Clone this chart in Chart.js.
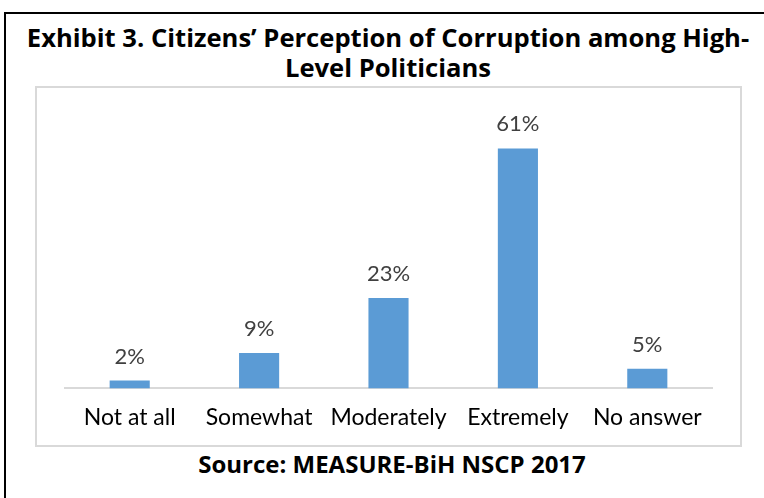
<!DOCTYPE html>
<html lang="en">
<head>
    <meta charset="UTF-8">
    <title>Exhibit 3</title>
    <script src="https://cdn.jsdelivr.net/npm/chart.js"></script>
    <style>
        body { margin: 0; background: #fff; width: 764px; height: 498px; overflow: hidden; position: relative; font-family: Lato, "Open Sans", sans-serif; }
        #frame { position: absolute; left: 4px; top: 12px; width: 800px; height: 600px; border: 2px solid #000; }
        #title { position: absolute; left: 0; top: 23px; width: 776px; text-align: center; font-family: "Open Sans"; font-weight: bold; font-size: 25.6px; line-height: 30px; color: #000; }
        #box { position: absolute; left: 35px; top: 86px; width: 703px; height: 357px; border: 2px solid #d9d9d9; }
        #box canvas { display: block; }
        #source { position: absolute; left: 4px; top: 449px; width: 776px; text-align: center; font-family: "Open Sans"; font-weight: bold; font-size: 24px; line-height: 30px; color: #000; }
    </style>
</head>
<body>
    <div id="frame"></div>
    <div id="title">Exhibit 3. Citizens’ Perception of Corruption among High-<br>Level Politicians</div>
    <div id="box"><canvas id="chartCanvas" width="703" height="357"></canvas></div>
    <div id="source">Source: MEASURE-BiH NSCP 2017</div>

    <script>
        const categories = ['Not at all', 'Somewhat', 'Moderately', 'Extremely', 'No answer'];
        const percentages = [2, 9, 23, 61, 5];

        // draws the "61%" style labels above each bar
        const valueLabels = {
            id: 'valueLabels',
            afterDatasetsDraw(chart) {
                const ctx = chart.ctx;
                const meta = chart.getDatasetMeta(0);
                ctx.save();
                ctx.font = '22px Lato';
                ctx.fillStyle = '#404040';
                ctx.textAlign = 'center';
                ctx.textBaseline = 'alphabetic';
                meta.data.forEach((bar, i) => {
                    ctx.fillText(percentages[i] + '%', bar.x, bar.y - 17);
                });
                ctx.restore();
            }
        };

        new Chart(document.getElementById('chartCanvas').getContext('2d'), {
            type: 'bar',
            data: {
                labels: categories,
                datasets: [{
                    data: percentages,
                    backgroundColor: '#5b9bd5',
                    barPercentage: 0.62,
                    categoryPercentage: 0.5,
                }],
            },
            options: {
                responsive: false,
                animation: false,
                layout: { padding: { left: 28, right: 28, top: 25, bottom: 7 } },
                plugins: { legend: { display: false }, tooltip: { enabled: false } },
                scales: {
                    x: {
                        grid: { display: false },
                        border: { color: '#d9d9d9', width: 2 },
                        ticks: { color: '#000', padding: 7, font: { family: 'Lato', size: 23 } },
                    },
                    y: { display: false, min: 0, max: 70 },
                },
            },
            plugins: [valueLabels],
        });
    </script>
</body>
</html>
